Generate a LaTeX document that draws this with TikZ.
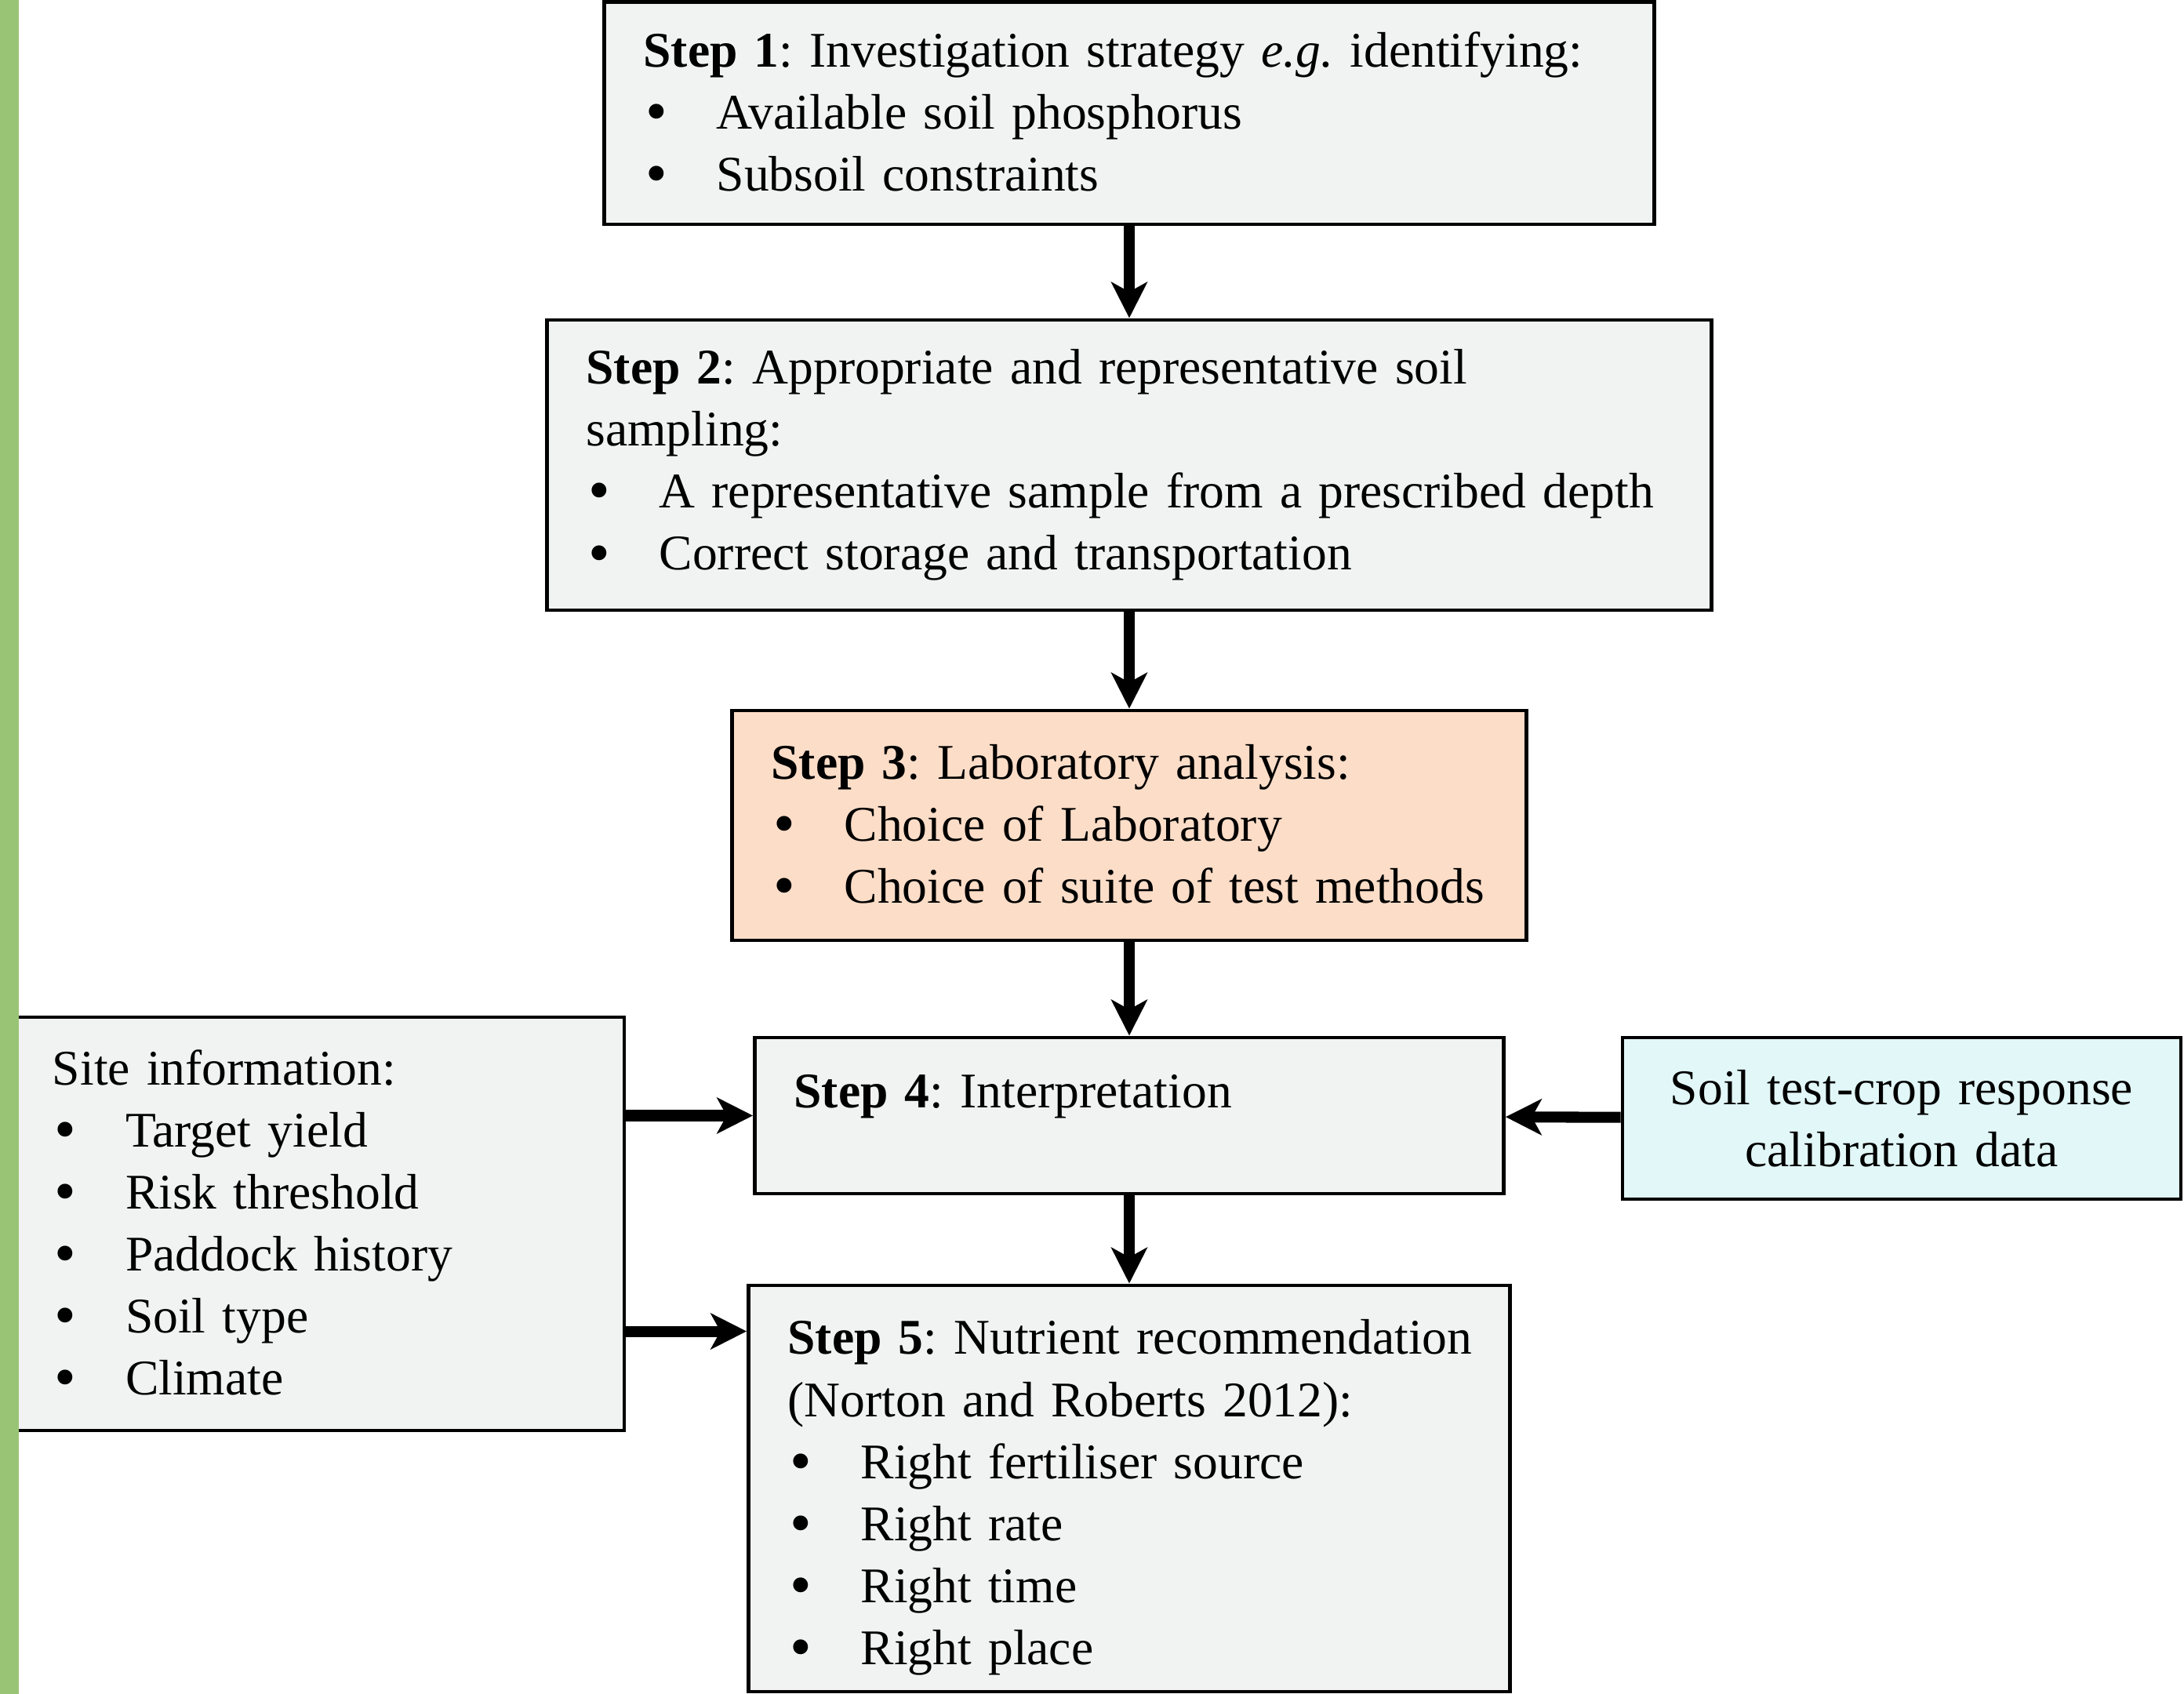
\documentclass[tikz,border=0pt]{standalone}
\usepackage{fontspec}
\setmainfont{Liberation Serif}
\usepackage{tikz}
\usetikzlibrary{arrows.meta}
\pgfdeclarelayer{bg}
\pgfsetlayers{bg,main}
\definecolor{boxgrey}{RGB}{241,243,243}
\definecolor{labpeach}{RGB}{252,221,200}
\definecolor{calibcyan}{RGB}{226,247,247}
\definecolor{stripgreen}{RGB}{154,196,117}
\newcommand{\bulletitem}{\makebox[26.5pt][l]{\hspace{0.8pt}\raisebox{-1.2pt}{\fontsize{22.5}{22.5}\selectfont\textbullet}}}
\tikzset{
        stepbox/.style={draw, line width=1.4pt, fill=boxgrey, align=left, inner xsep=0.5cm, inner ysep=0.1cm, font=\fontsize{18.1}{22.5}\selectfont, execute at begin node=\frenchspacing},
        flowarrow/.style={line width=4pt, -{Stealth[length=13pt,width=13pt,inset=3.5pt]}},
}
\begin{document}
\begin{tikzpicture}
        \useasboundingbox (0cm, 0cm) rectangle (27.85cm, -21.60cm);
        \node (s1) [stepbox, text width=12.39cm, minimum height=2.835cm] at (14.400000cm, -1.443000cm) {\textbf{Step 1}: Investigation strategy \textit{e.g.} identifying:\\ \bulletitem Available soil phosphorus\\ \bulletitem Subsoil constraints};
        \node (s2) [stepbox, text width=13.85cm, minimum height=3.700cm] at (14.400000cm, -5.930000cm) {\textbf{Step 2}: Appropriate and representative soil\\ sampling:\\ \bulletitem \mbox{A representative sample from a prescribed depth}\\ \bulletitem Correct storage and transportation};
        \node (s3) [stepbox, fill=labpeach, text width=9.13cm, minimum height=2.930cm] at (14.400000cm, -10.525000cm) {\textbf{Step 3}: Laboratory analysis:\\ \bulletitem Choice of Laboratory\\ \bulletitem \mbox{Choice of suite of test methods}};
        \node (s4) [stepbox, text width=8.55cm, minimum height=1.990cm, text height=0.45cm, text depth=0.65cm] at (14.400000cm, -14.225000cm) {\textbf{Step 4}: Interpretation};
        \node (s5) [stepbox, text width=8.71cm, minimum height=5.180cm, text height=0.67cm] at (14.400000cm, -18.980000cm) {\mbox{\textbf{Step 5}: Nutrient recommendation}\\ (Norton and Roberts 2012):\\ \bulletitem Right fertiliser source\\ \bulletitem Right rate\\ \bulletitem Right time\\ \bulletitem Right place};
        \node (site) [stepbox, inner xsep=0.47cm, text width=6.82cm, minimum height=5.270cm] at (4.080000cm, -15.605000cm) {Site information:\\ \bulletitem Target yield\\ \bulletitem Risk threshold\\ \bulletitem Paddock history\\ \bulletitem Soil type\\ \bulletitem Climate};
        \node (soil) [stepbox, fill=calibcyan, align=center, text width=6.12cm, minimum height=2.060cm] at (24.250000cm, -14.260000cm) {Soil test-crop response\\ calibration data};
        \coordinate (s5in) at ([yshift=-0.61cm]s5.north west);
        \begin{pgfonlayer}{bg}
                \draw (s1) edge [flowarrow] (s2);
                \draw (s2) edge [flowarrow] (s3);
                \draw (s3) edge [flowarrow] (s4);
                \draw (s4) edge [flowarrow] (s5);
                \draw (site.east |- s4) edge [flowarrow] (s4);
                \draw (site.east |- s5in) edge [flowarrow] (s5in);
                \draw (soil) edge [flowarrow] (s4);
        \end{pgfonlayer}
        \fill [stripgreen] (0cm, 0cm) rectangle (0.24cm, -21.60cm);
\end{tikzpicture}
\end{document}
